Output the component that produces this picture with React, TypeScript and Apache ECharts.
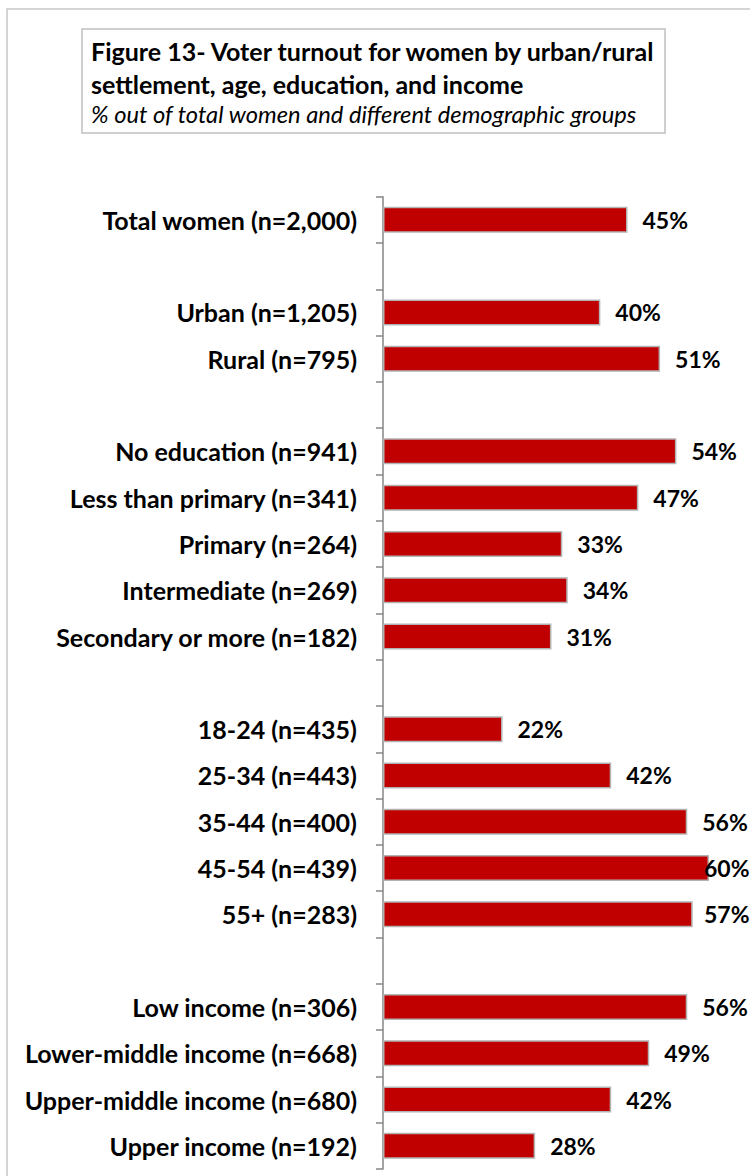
import React, { useEffect, useRef } from 'react';
import * as echarts from 'echarts';

const titleLines = [
  'Figure 13- Voter turnout for women by urban/rural',
  'settlement, age, education, and income',
];
const subtitle = '% out of total women and different demographic groups';

const categories = [
  'Total women (n=2,000)',
  ' ',
  'Urban (n=1,205)',
  'Rural (n=795)',
  '  ',
  'No education (n=941)',
  'Less than primary (n=341)',
  'Primary (n=264)',
  'Intermediate (n=269)',
  'Secondary or more (n=182)',
  '   ',
  '18-24 (n=435)',
  '25-34 (n=443)',
  '35-44 (n=400)',
  '45-54 (n=439)',
  '55+ (n=283)',
  '    ',
  'Low income (n=306)',
  'Lower-middle income (n=668)',
  'Upper-middle income (n=680)',
  'Upper income (n=192)',
];

const turnout: (number | null)[] = [
  45, null, 40, 51, null, 54, 47, 33, 34, 31, null, 22, 42, 56, 60, 57, null, 56, 49, 42, 28,
];

const FONT = 'Lato, "Open Sans", sans-serif';

export default function App() {
  const ref = useRef<HTMLDivElement>(null);
  useEffect(() => {
    const chart = echarts.init(ref.current!, null, { renderer: 'svg' });
    const gridLeft = 383;
    const gridWidth = 326;
    const xMax = 60;
    const labelW = 45;
    const rightLimit = 749;
    const labelDistance = (v: number) => {
      const end = gridLeft + (v * gridWidth) / xMax;
      return Math.min(15, rightLimit - end - labelW);
    };
    chart.setOption({
      animation: false,
      backgroundColor: '#ffffff',
      graphic: [
        {
          type: 'rect',
          silent: true,
          z: -10,
          shape: { x: 7, y: 9, width: 1000, height: 1400 },
          style: { fill: 'none', stroke: '#c8c8c8', lineWidth: 1.5 },
        },
        {
          type: 'rect',
          silent: true,
          shape: { x: 82, y: 29, width: 583, height: 104 },
          style: { fill: '#ffffff', stroke: '#c0c0c0', lineWidth: 1.5 },
        },
        {
          type: 'text',
          x: 91,
          y: 51,
          style: {
            text: titleLines[0],
            fontFamily: FONT,
            fontSize: 25,
            fontWeight: 'bold',
            fill: '#000',
            verticalAlign: 'middle',
          },
        },
        {
          type: 'text',
          x: 91,
          y: 84,
          style: {
            text: titleLines[1],
            fontFamily: FONT,
            fontSize: 25,
            fontWeight: 'bold',
            fill: '#000',
            verticalAlign: 'middle',
          },
        },
        {
          type: 'text',
          x: 91,
          y: 114,
          style: {
            text: subtitle,
            fontFamily: FONT,
            fontSize: 23.7,
            fontStyle: 'italic',
            fill: '#000',
            verticalAlign: 'middle',
          },
        },
      ],
      grid: { left: gridLeft, top: 196.7, width: gridWidth, height: 972.3, containLabel: false },
      xAxis: {
        type: 'value',
        min: 0,
        max: xMax,
        show: false,
        splitLine: { show: false },
      },
      yAxis: {
        type: 'category',
        inverse: true,
        data: categories,
        axisLine: { show: true, lineStyle: { color: '#868686', width: 1.5 } },
        axisTick: {
          show: true,
          interval: 0,
          length: 7,
          alignWithLabel: false,
          lineStyle: { color: '#868686', width: 1.5 },
        },
        axisLabel: {
          interval: 0,
          margin: 26,
          fontFamily: FONT,
          fontSize: 25,
          fontWeight: 'bold',
          color: '#000',
        },
        splitLine: { show: false },
      },
      series: [
        {
          type: 'bar',
          barWidth: 26,
          data: turnout.map((v) =>
            v === null ? null : { value: v, label: { distance: labelDistance(v) } }
          ),
          itemStyle: { color: '#c00000', borderColor: '#b3b3b3', borderWidth: 1.5 },
          label: {
            show: true,
            position: 'right',
            distance: 15,
            formatter: '{c}%',
            fontFamily: FONT,
            fontSize: 23,
            fontWeight: 'bold',
            color: '#000',
          },
        },
      ],
    });
    return () => chart.dispose();
  }, []);
  return (
    <div
      ref={ref}
      style={{ position: 'absolute', left: 0, top: 0, width: 750, height: 1176 }}
    />
  );
}
